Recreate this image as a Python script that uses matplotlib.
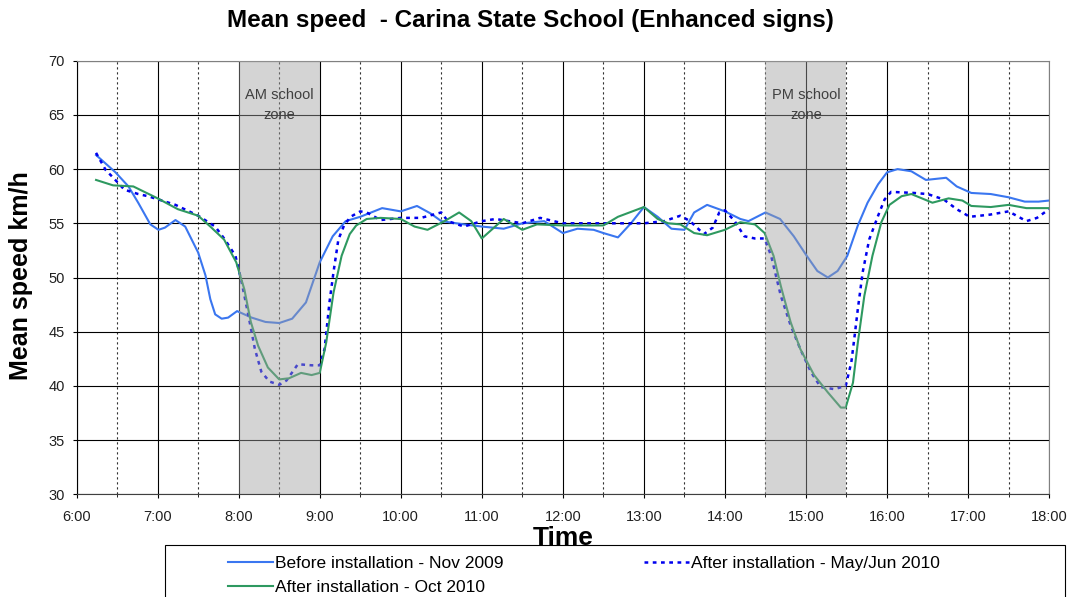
import matplotlib
matplotlib.use('Agg')
import matplotlib.pyplot as plt
from matplotlib.patches import Rectangle

plt.rcParams['font.family'] = ['Liberation Sans', 'DejaVu Sans']

# tiempo en horas decimales, velocidad media en km/h
t_nov09 = [6.24, 6.48, 6.64, 6.76, 6.91, 7.01, 7.09, 7.22, 7.34, 7.50, 7.59, 7.65, 7.71, 7.79,
           7.87, 7.98, 8.16, 8.33, 8.50, 8.66, 8.83, 9.0, 9.16, 9.32, 9.5, 9.77, 10.0, 10.2,
           10.37, 10.5, 10.78, 11.0, 11.27, 11.5, 11.77, 12.0, 12.18, 12.38, 12.5, 12.68, 12.84,
           13.0, 13.17, 13.34, 13.5, 13.62, 13.78, 14.0, 14.19, 14.29, 14.5, 14.68, 14.85, 15.0,
           15.14, 15.27, 15.39, 15.51, 15.64, 15.76, 15.89, 16.0, 16.13, 16.3, 16.48, 16.73,
           16.86, 17.04, 17.28, 17.5, 17.7, 17.87, 18.0]
v_nov09 = [61.3, 59.7, 58.4, 56.9, 54.9, 54.4, 54.6, 55.3, 54.7, 52.3, 50.2, 48.0, 46.6, 46.2,
           46.3, 46.9, 46.3, 45.9, 45.8, 46.2, 47.7, 51.4, 53.8, 55.2, 55.6, 56.4, 56.1, 56.6,
           55.9, 55.2, 54.9, 54.7, 54.5, 55.0, 55.2, 54.1, 54.5, 54.4, 54.1, 53.7, 55.0,
           56.5, 55.6, 54.5, 54.4, 56.0, 56.7, 56.1, 55.4, 55.2, 56.0, 55.4, 53.8, 52.1,
           50.6, 50.0, 50.6, 52.0, 54.8, 56.9, 58.6, 59.7, 60.0, 59.8, 59.0, 59.2,
           58.4, 57.8, 57.7, 57.4, 57.0, 57.0, 57.1]

t_jun10 = [6.24, 6.36, 6.44, 6.59, 6.76, 6.88, 7.01, 7.22, 7.50, 7.71, 7.83, 7.96, 8.03, 8.12,
           8.20, 8.28, 8.38, 8.50, 8.59, 8.73, 8.9, 9.0, 9.06, 9.12, 9.17, 9.23, 9.3, 9.38, 9.5,
           9.58, 9.75, 10.0, 10.25, 10.5, 10.58, 10.78, 11.0, 11.17, 11.5, 11.72, 12.0, 12.43,
           13.0, 13.25, 13.45, 13.57, 13.74, 13.85, 13.93, 14.0, 14.12, 14.24, 14.37, 14.49,
           14.57, 14.69, 14.81, 14.93, 15.06, 15.18, 15.35, 15.49, 15.56, 15.6, 15.64, 15.7,
           15.78, 15.89, 15.97, 16.05, 16.33, 16.5, 16.7, 16.86, 17.02, 17.27, 17.5, 17.72,
           17.85, 18.0]
v_jun10 = [61.5, 59.9, 59.3, 58.1, 57.7, 57.5, 57.2, 56.7, 55.7, 54.7, 53.5, 52.0, 49.8, 46.5,
           43.4, 41.3, 40.4, 40.1, 40.5, 42.0, 41.9, 41.9, 43.4, 47.7, 50.5, 53.5, 54.8, 55.6, 56.1,
           56.0, 55.3, 55.5, 55.5, 56.0, 55.2, 54.7, 55.2, 55.4, 55.0, 55.5, 55.0, 55.0,
           55.0, 55.2, 55.7, 55.2, 54.0, 54.6, 56.0, 56.2, 55.2, 53.8, 53.6, 53.6,
           52.0, 48.3, 45.6, 43.4, 41.3, 39.9, 39.7, 40.0, 42.2, 44.6, 47.1, 50.5,
           53.5, 55.7, 57.2, 57.9, 57.8, 57.7, 57.2, 56.3, 55.6, 55.8, 56.1, 55.2,
           55.5, 56.3]

t_oct10 = [6.24, 6.45, 6.70, 7.0, 7.25, 7.5, 7.65, 7.82, 7.97, 8.07, 8.15, 8.24, 8.36, 8.5,
           8.62, 8.77, 8.9, 9.0, 9.08, 9.17, 9.27, 9.37, 9.45, 9.58, 9.75, 10.0, 10.17, 10.33,
           10.54, 10.72, 10.87, 11.0, 11.12, 11.27, 11.5, 11.68, 12.0, 12.5, 12.68, 13.0, 13.17,
           13.3, 13.45, 13.62, 13.78, 14.0, 14.19, 14.37, 14.49, 14.6, 14.69, 14.81, 14.93,
           15.1, 15.27, 15.43, 15.49, 15.58, 15.64, 15.72, 15.82, 15.93, 16.03, 16.18, 16.3,
           16.43, 16.56, 16.76, 16.93, 17.04, 17.28, 17.5, 17.72, 18.0]
v_oct10 = [59.0, 58.5, 58.4, 57.3, 56.3, 55.7, 54.7, 53.5, 51.4, 48.9, 45.9, 43.7, 41.7, 40.6,
           40.7, 41.2, 41.0, 41.2, 44.0, 48.6, 52.0, 54.0, 54.8, 55.4, 55.5, 55.4, 54.7, 54.4,
           55.2, 56.0, 55.2, 53.6, 54.4, 55.4, 54.4, 54.9, 54.8, 54.8, 55.6, 56.5, 55.4,
           55.0, 54.9, 54.1, 53.9, 54.4, 55.1, 54.9, 54.1, 52.0, 49.2, 45.9, 43.4,
           41.0, 39.4, 38.0, 38.0, 40.3, 44.0, 48.3, 52.0, 55.1, 56.7, 57.5, 57.7,
           57.3, 56.9, 57.3, 57.1, 56.6, 56.5, 56.7, 56.4, 56.4]

horas = list(range(6, 19))
etiquetas_horas = [f"{h}:00" for h in horas]

fig = plt.figure(figsize=(10.74, 5.97), dpi=100)
ax = fig.add_axes([76.6/1074, 1 - 494.3/597, 972.5/1074, 433.6/597])

l1, = ax.plot(t_nov09, v_nov09, color='#3a76f0', lw=1.5, zorder=2,
              label='Before installation - Nov 2009')
l2, = ax.plot(t_jun10, v_jun10, color='#0000ee', lw=1.8, ls=(0, (1.5, 1.8)), zorder=2,
              label='After installation - May/Jun 2010')
l3, = ax.plot(t_oct10, v_oct10, color='#2e9960', lw=1.5, zorder=2,
              label='After installation - Oct 2010')

# zonas escolares
ax.axvspan(8, 9, color='#a0a0a0', alpha=0.45, lw=0, zorder=3)
ax.axvspan(14.5, 15.5, color='#a0a0a0', alpha=0.45, lw=0, zorder=3)
for xc, txt in [(8.5, 'AM school'), (15, 'PM school')]:
    ax.text(xc, 66.44, txt, ha='center', va='baseline', fontsize=10.5,
            color='#404040', zorder=4)
    ax.text(xc, 64.62, 'zone', ha='center', va='baseline', fontsize=10.5,
            color='#404040', zorder=4)

ax.set_xlim(6, 18)
ax.set_ylim(30, 70)
ax.set_xticks(horas)
ax.set_xticklabels(etiquetas_horas, fontsize=10.5)
ax.set_xticks([h + 0.5 for h in range(6, 18)], minor=True)
ax.set_yticks(range(30, 71, 5))
ax.tick_params(axis='y', labelsize=10.5, length=3, pad=5.5, labelcolor='#202020')
ax.tick_params(axis='x', which='major', length=3, pad=8.5, labelcolor='#202020')
ax.tick_params(axis='x', which='minor', length=2)
ax.set_axisbelow(True)
ax.grid(which='major', color='black', lw=0.8)
ax.grid(which='minor', axis='x', color='#303030', lw=0.8, ls=(0, (2, 2.5)))
for s in ax.spines.values():
    s.set_color('#808080')
    s.set_linewidth(0.8)
ax.spines['left'].set_color('black')
ax.spines['bottom'].set_color('#404040')

fig.text(563/1074, 1 - 545/597, 'Time', ha='center', va='baseline',
         fontsize=19, fontweight='bold')
fig.text(21/1074, 1 - 276/597, 'Mean speed km/h', ha='center', va='center',
         rotation=90, fontsize=18, fontweight='bold')
fig.text(530/1074, 1 - 27.5/597, 'Mean speed  - Carina State School (Enhanced signs)',
         ha='center', va='baseline', fontsize=17.5, fontweight='bold')

# leyenda con marco cortado abajo
fig.add_artist(Rectangle((165/1074, -0.02), 900/1074, (597 - 545)/597 + 0.02,
                         transform=fig.transFigure, fill=False, ec='black', lw=0.8))
fig.legend(handles=[l1, l3, l2], ncol=2, loc='upper left',
           bbox_to_anchor=(228/1074, 1 - 556/597), frameon=False, fontsize=12.5,
           handlelength=2.6, handletextpad=0.1, columnspacing=8.1, labelspacing=0.48,
           borderpad=0, borderaxespad=0)

fig.savefig('out.png', dpi=100)
